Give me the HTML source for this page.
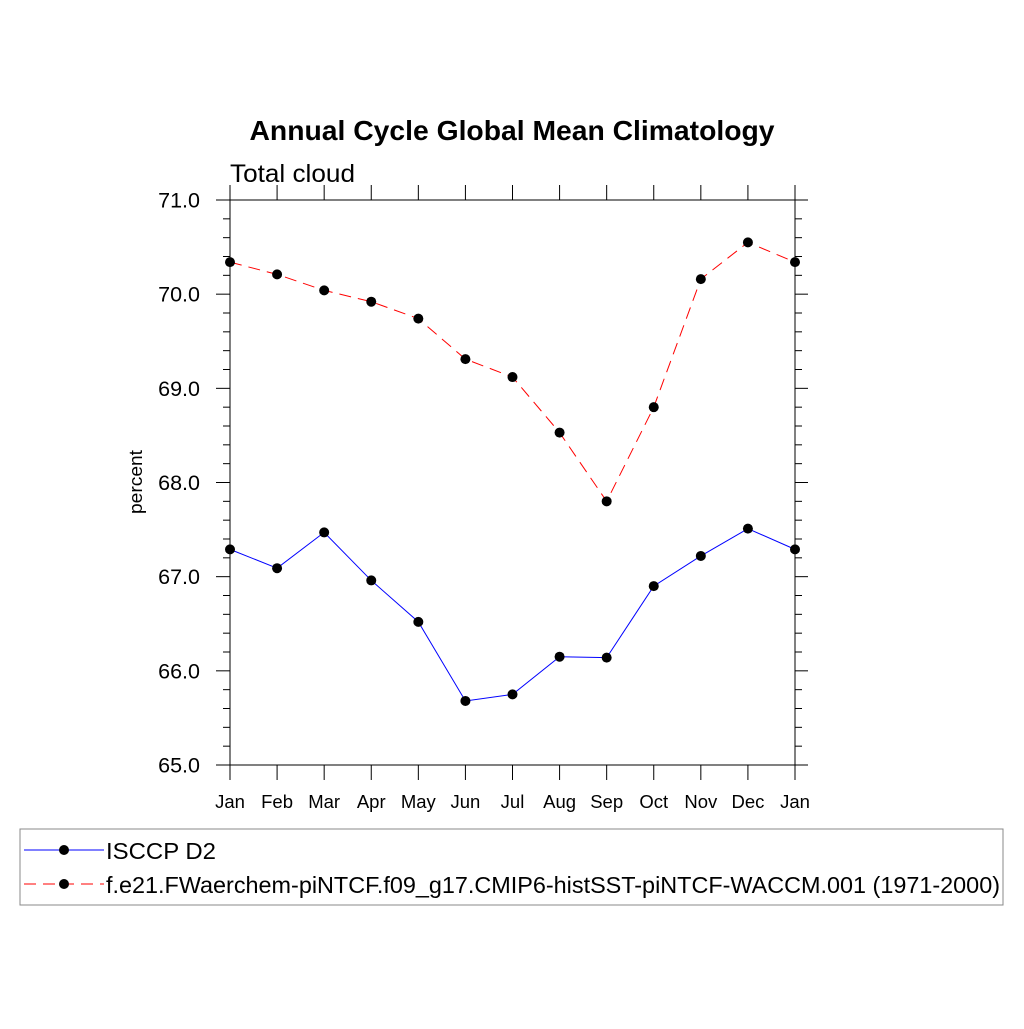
<!DOCTYPE html>
<html><head><meta charset="utf-8"><style>
html,body{margin:0;padding:0;background:#fff;}
svg text{font-family:"Liberation Sans",sans-serif;}
</style></head><body>
<svg id="chart" width="1024" height="1024" xmlns="http://www.w3.org/2000/svg">
<rect x="0" y="0" width="1024" height="1024" fill="#fff"/>
<text x="512" y="140" text-anchor="middle" font-size="28" font-weight="bold" textLength="525" lengthAdjust="spacingAndGlyphs">Annual Cycle Global Mean Climatology</text>
<text x="230" y="182" font-size="25" textLength="125" lengthAdjust="spacingAndGlyphs">Total cloud</text>
<text transform="translate(142,482) rotate(-90)" text-anchor="middle" font-size="18" textLength="64" lengthAdjust="spacingAndGlyphs">percent</text>
<g id="axes"></g>
<g id="series"></g>
<rect x="20" y="829" width="983" height="76" fill="none" stroke="#888" stroke-width="1"/>
<g>
<line x1="24" y1="850" x2="104" y2="850" stroke="#0000ff" stroke-width="1"/>
<circle cx="64" cy="850" r="5" fill="#000"/>
<text x="106" y="859" font-size="23" textLength="110" lengthAdjust="spacingAndGlyphs">ISCCP D2</text>
</g>
<g>
<line x1="24" y1="884" x2="104" y2="884" stroke="#ff0000" stroke-width="1" stroke-dasharray="12,7"/>
<circle cx="64" cy="884" r="5" fill="#000"/>
<text x="106" y="893" font-size="23" textLength="894" lengthAdjust="spacingAndGlyphs">f.e21.FWaerchem-piNTCF.f09_g17.CMIP6-histSST-piNTCF-WACCM.001 (1971-2000)</text>
</g>
</svg>
<script>
const months = ["Jan","Feb","Mar","Apr","May","Jun","Jul","Aug","Sep","Oct","Nov","Dec","Jan"];
const isccpValues = [67.29,67.09,67.47,66.96,66.52,65.68,65.75,66.15,66.14,66.90,67.22,67.51,67.29];
const modelValues = [70.34,70.21,70.04,69.92,69.74,69.31,69.12,68.53,67.80,68.80,70.16,70.55,70.34];
const yTicks = [65,66,67,68,69,70,71];
const yTickLabels = ["65.0","66.0","67.0","68.0","69.0","70.0","71.0"];

const NS = "http://www.w3.org/2000/svg";
const X0 = 230, X1 = 795, Y0 = 765, Y1 = 200, YMIN = 65, YMAX = 71;
function xs(i){ return X0 + (X1 - X0) * i / (months.length - 1); }
function ys(v){ return Y0 - (Y0 - Y1) * (v - YMIN) / (YMAX - YMIN); }
function mk(tag, attrs, parent){
  const e = document.createElementNS(NS, tag);
  for (const k in attrs) e.setAttribute(k, attrs[k]);
  parent.appendChild(e); return e;
}
const axes = document.getElementById('axes');
const S = {stroke:"#000","stroke-width":1};
let l;
l = mk('line', Object.assign({x1:216,y1:Y1,x2:808,y2:Y1},S), axes);
 
l = mk('line', Object.assign({x1:216,y1:Y0,x2:808,y2:Y0},S), axes);
 
l = mk('line', Object.assign({x1:X0,y1:185,x2:X0,y2:780},S), axes);
 
l = mk('line', Object.assign({x1:X1,y1:185,x2:X1,y2:780},S), axes);
 
months.forEach((m,i)=>{
  const x = xs(i);
  let t = mk('line', Object.assign({x1:x,y1:Y0,x2:x,y2:780},S), axes);
   
  t = mk('line', Object.assign({x1:x,y1:185,x2:x,y2:Y1},S), axes);
   
  const tx = mk('text', {x:x, y:808, "text-anchor":"middle", "font-size":18.5}, axes);
  tx.textContent = m;
   
});
yTicks.forEach((v,i)=>{
  const y = ys(v);
  let t = mk('line', Object.assign({x1:216,y1:y,x2:X0,y2:y},S), axes);
   
  t = mk('line', Object.assign({x1:X1,y1:y,x2:808,y2:y},S), axes);
   
  const tx = mk('text', {x:200, y:y+7.5, "text-anchor":"end", "font-size":21.5}, axes);
  tx.textContent = yTickLabels[i];
   
  if (i < yTicks.length - 1) {
    for (let k=1;k<5;k++){
      const ym = ys(v + k*0.2);
      let mt = mk('line', Object.assign({x1:223,y1:ym,x2:X0,y2:ym},S), axes);
       
      mt = mk('line', Object.assign({x1:X1,y1:ym,x2:802,y2:ym},S), axes);
       
    }
  }
});
const sg = document.getElementById('series');
function drawSeries(vals, color, dash, name){
  const pts = vals.map((v,i)=>xs(i)+","+ys(v)).join(" ");
  const pl = mk('polyline', {points:pts, fill:"none", stroke:color, "stroke-width":1, "stroke-dasharray":dash}, sg);
  
  
  vals.forEach((v,i)=>{
    const c = mk('circle', {cx:xs(i), cy:ys(v), r:5, fill:"#000"}, sg);
    
    
  });
}
drawSeries(modelValues, "#ff0000", "12,7", "model");
drawSeries(isccpValues, "#0000ff", "none", "isccp");
</script>
</body></html>
